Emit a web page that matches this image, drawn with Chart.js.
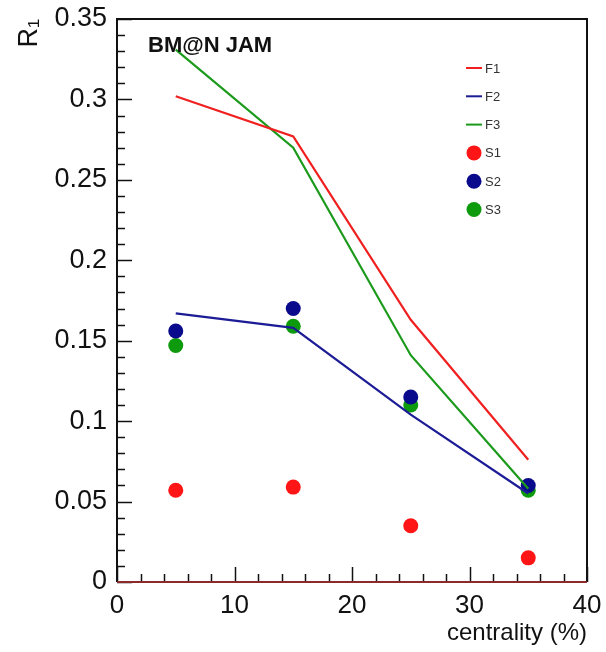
<!DOCTYPE html>
<html>
<head>
<meta charset="utf-8">
<script src="https://cdn.jsdelivr.net/npm/chart.js@4"></script>
<style>
  html, body { margin: 0; padding: 0; background: #fff; }
  #chart { display: block; }
</style>
</head>
<body>
<canvas id="chart" width="606" height="652"></canvas>
<script>
// valores
const centrality = [5, 15, 25, 35];
const f1 = [0.302, 0.277, 0.163, 0.076];
const f2 = [0.167, 0.158, 0.104, 0.055];
const f3 = [0.331, 0.270, 0.141, 0.058];
const s1 = [0.057, 0.059, 0.035, 0.015];
const s2 = [0.156, 0.170, 0.115, 0.060];
const s3 = [0.147, 0.159, 0.110, 0.057];

const FONT = 'Liberation Sans, Arial, sans-serif';

function pts(ys) {
    return centrality.map((x, i) => ({ x: x, y: ys[i] }));
}

function lineSet(label, ys, color) {
    return {
        label: label,
        data: pts(ys),
        showLine: true,
        borderColor: color,
        backgroundColor: color,
        borderWidth: 2.2,
        pointRadius: 0,
        kind: 'line'
    };
}

function dotSet(label, ys, color) {
    return {
        label: label,
        data: pts(ys),
        showLine: false,
        borderColor: color,
        backgroundColor: color,
        pointRadius: 7.5,
        pointBorderWidth: 0,
        kind: 'dot'
    };
}

// Marco, marcas hacia dentro, texto y leyenda al estilo ROOT
const rootStyle = {
    id: 'rootStyle',
    afterDatasetsDraw(chart) {
        const ctx = chart.ctx;
        const a = chart.chartArea;
        const xs = chart.scales.x;
        const ys = chart.scales.y;
        ctx.save();

        // ticks del eje y
        ctx.strokeStyle = '#111';
        ctx.lineWidth = 1.5;
        for (let i = 0; i <= 35; i++) {
            const v = i / 100;
            const py = Math.round(ys.getPixelForValue(v)) + 0.5;
            const len = (i % 5 === 0) ? 15 : 8;
            ctx.beginPath();
            ctx.moveTo(a.left, py);
            ctx.lineTo(a.left + len, py);
            ctx.stroke();
        }
        // ticks del eje x
        for (let v = 0; v <= 40; v += 2) {
            const px = Math.round(xs.getPixelForValue(v)) + 0.5;
            const len = (v % 10 === 0) ? 15 : 8;
            ctx.beginPath();
            ctx.moveTo(px, a.bottom);
            ctx.lineTo(px, a.bottom - len);
            ctx.stroke();
        }

        // marco
        ctx.lineWidth = 2;
        ctx.strokeStyle = '#111';
        ctx.beginPath();
        ctx.moveTo(a.left, a.bottom);
        ctx.lineTo(a.left, a.top);
        ctx.lineTo(a.right, a.top);
        ctx.lineTo(a.right, a.bottom);
        ctx.stroke();
        ctx.strokeStyle = '#8b2a2a';
        ctx.beginPath();
        ctx.moveTo(a.left, a.bottom);
        ctx.lineTo(a.right, a.bottom);
        ctx.stroke();

        // etiqueta
        ctx.fillStyle = '#111';
        ctx.font = 'bold 22px ' + FONT;
        ctx.textAlign = 'left';
        ctx.textBaseline = 'middle';
        ctx.fillText('BM@N JAM', a.left + 31, 46);

        // leyenda
        const lx = 474, ly0 = 68, dy = 28.3;
        ctx.font = '13px ' + FONT;
        chart.data.datasets.forEach((ds, i) => {
            const y = ly0 + i * dy;
            if (ds.kind === 'line') {
                ctx.strokeStyle = ds.borderColor;
                ctx.lineWidth = 2;
                ctx.beginPath();
                ctx.moveTo(lx - 8, y);
                ctx.lineTo(lx + 8, y);
                ctx.stroke();
            } else {
                ctx.fillStyle = ds.backgroundColor;
                ctx.beginPath();
                ctx.arc(lx, y, 7.5, 0, Math.PI * 2);
                ctx.fill();
            }
            ctx.fillStyle = '#333';
            ctx.fillText(ds.label, lx + 11, y + 1);
        });
        ctx.restore();
    }
};

new Chart(document.getElementById('chart'), {
    type: 'scatter',
    data: {
        datasets: [
            lineSet('F1', f1, '#f02020'),
            lineSet('F2', f2, '#1c1c96'),
            lineSet('F3', f3, '#1c9a1c'),
            dotSet('S1', s1, '#ff1515'),
            dotSet('S2', s2, '#0a0a8c'),
            dotSet('S3', s3, '#0d9a0d')
        ]
    },
    options: {
        responsive: false,
        animation: false,
        devicePixelRatio: 1,
        layout: { padding: { top: 19, right: 19, left: 0, bottom: 0 } },
        plugins: {
            legend: { display: false },
            tooltip: { enabled: false }
        },
        scales: {
            x: {
                type: 'linear',
                min: 0,
                max: 40,
                grid: { display: false },
                border: { display: false },
                ticks: {
                    stepSize: 10,
                    color: '#111',
                    padding: 0,
                    font: { family: FONT, size: 26 }
                },
                title: {
                    display: true,
                    text: 'centrality (%)',
                    align: 'end',
                    color: '#111',
                    padding: { top: 3 },
                    font: { family: FONT, size: 24 }
                },
                afterFit(scale) { scale.height = 70; }
            },
            y: {
                type: 'linear',
                min: 0,
                max: 0.35,
                grid: { display: false },
                border: { display: false },
                ticks: {
                    stepSize: 0.05,
                    color: '#111',
                    padding: 2,
                    font: { family: FONT, size: 27 },
                    callback: v => String(+v.toFixed(2))
                },
                title: {
                    display: true,
                    text: 'R₁',
                    align: 'end',
                    color: '#111',
                    padding: { top: 13, bottom: 0 },
                    font: { family: FONT, size: 27 }
                },
                afterFit(scale) { scale.width = 117; }
            }
        }
    },
    plugins: [rootStyle]
});
</script>
</body>
</html>
